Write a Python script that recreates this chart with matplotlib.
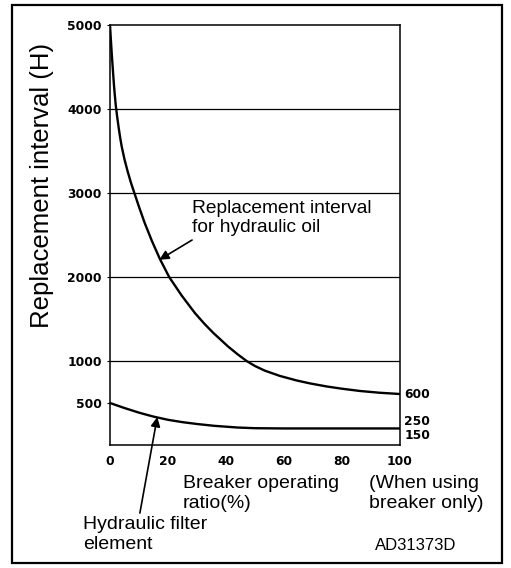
import matplotlib.pyplot as plt
from matplotlib.patches import Rectangle

# Replacement interval data (hours) vs breaker operating ratio (%)
oilRatio = [0, 0.2, 0.4, 0.6, 1.0, 1.4, 1.7, 2.0, 2.5, 3.0, 3.5, 4.0, 5.0, 6.1, 7.2, 8.4,
            10, 12, 14.5, 17.2, 20.4, 24.7, 29.3, 32.5, 35.6, 40.8, 44, 47.1, 50, 53.4,
            58.6, 64.4, 69, 74.7, 80, 86.2, 93, 100]
oilHours = [5000, 4880, 4770, 4660, 4460, 4270, 4150, 4040, 3900, 3775, 3660, 3560, 3400,
            3255, 3125, 3000, 2835, 2640, 2425, 2215, 2000, 1780, 1570, 1445, 1335, 1170,
            1080, 1000, 940, 885, 822, 768, 733, 697, 670, 643, 622, 607]

filterRatio = [0, 5, 10, 15, 20, 25, 30, 36, 44, 50, 60, 80, 100]
filterHours = [500, 440, 385, 338, 300, 272, 250, 228, 208, 200, 197, 197, 197]

yTicks = [500, 1000, 2000, 3000, 4000, 5000]
xTicks = [0, 20, 40, 60, 80, 100]
gridLevels = [1000, 2000, 3000, 4000]

plt.rcParams['font.family'] = ['Liberation Sans', 'DejaVu Sans']

fig = plt.figure(figsize=(5.11, 5.68), dpi=100)

# outer frame around the whole drawing
fig.patches.append(Rectangle((12 / 511, 5 / 568), 490 / 511, 558 / 568,
                             transform=fig.transFigure, fill=False,
                             edgecolor='black', linewidth=1.6))

ax = fig.add_axes([110 / 511, 123 / 568, 290 / 511, 420 / 568])
ax.set_xlim(0, 100)
ax.set_ylim(0, 5000)

for lvl in gridLevels:
    ax.axhline(lvl, color='black', linewidth=0.9)

ax.plot(oilRatio, oilHours, color='black', linewidth=1.7, solid_joinstyle='round')
ax.plot(filterRatio, filterHours, color='black', linewidth=1.7, solid_joinstyle='round')

for s in ax.spines.values():
    s.set_linewidth(1.1)

ax.set_xticks(xTicks)
ax.set_yticks(yTicks)
ax.tick_params(axis='y', length=2, width=0.8, direction='out', pad=4)
ax.tick_params(axis='x', length=0, pad=7)
for lbl in ax.get_xticklabels() + ax.get_yticklabels():
    lbl.set_fontfamily('DejaVu Sans')
    lbl.set_fontweight('bold')
    lbl.set_fontsize(8.8)

fig.text(42 / 511, 1 - 185 / 568, 'Replacement interval (H)', fontsize=18.5,
         rotation=90, va='center', ha='center')

# values at the right end of the curves
for val, yv in [('600', 605), ('250', 285), ('150', 115)]:
    ax.text(101.5, yv, val, fontsize=8.8, fontweight='bold', family='DejaVu Sans',
            va='center', ha='left')

ax.text(28.2, 2920, 'Replacement interval\nfor hydraulic oil', fontsize=13.8,
        va='top', ha='left', linespacing=1.2)
ax.annotate('', xy=(17.0, 2205), xytext=(28.3, 2440),
            arrowprops=dict(arrowstyle='-|>', color='black', lw=1.2,
                            mutation_scale=14, shrinkA=0, shrinkB=0))

ax.annotate('', xy=(16.3, 333), xytext=(10.3, -810),
            arrowprops=dict(arrowstyle='-|>', color='black', lw=1.2,
                            mutation_scale=14, shrinkA=0, shrinkB=0),
            annotation_clip=False)

fig.text(183 / 511, 1 - 475 / 568, 'Breaker operating\nratio(%)', fontsize=14,
         va='top', ha='left', linespacing=1.2)
fig.text(369 / 511, 1 - 475 / 568, '(When using\nbreaker only)', fontsize=14,
         va='top', ha='left', linespacing=1.2)
fig.text(83 / 511, 1 - 516 / 568, 'Hydraulic filter\nelement', fontsize=14,
         va='top', ha='left', linespacing=1.2)
fig.text(375 / 511, 1 - 546 / 568, 'AD31373D', fontsize=12, va='center', ha='left')

fig.savefig('out.png', dpi=100)
